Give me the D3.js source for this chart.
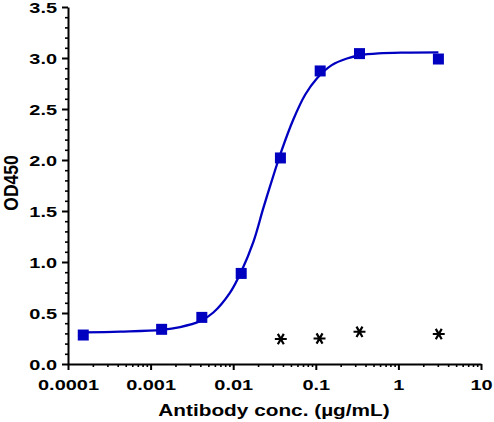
<!DOCTYPE html>
<html>
<head>
<meta charset="utf-8">
<script src="https://cdn.jsdelivr.net/npm/d3@7"></script>
<style>
  html, body { margin: 0; padding: 0; background: #fff; }
  svg { display: block; }
  text { font-family: "Liberation Sans", Arial, sans-serif; font-weight: bold; fill: #000; }
</style>
</head>
<body>
<svg id="chart" width="494" height="422"></svg>
<script>
// ---- data ----
const sampleConc = [0.000153, 0.00136, 0.00417, 0.0125, 0.0373, 0.113, 0.338, 3.05];
const sampleOD   = [0.284, 0.340, 0.457, 0.888, 2.02, 2.873, 3.043, 2.99];

const controlConc = [0.0377, 0.111, 0.338, 3.08];
const controlOD   = [0.245, 0.250, 0.316, 0.294];

// fitted curve
const fitConc = [0.000153, 0.000427, 0.00136, 0.00228, 0.00397, 0.00575, 0.00916, 0.0125,
                 0.0176, 0.0232, 0.0313, 0.0388, 0.0536, 0.0743, 0.103, 0.156, 0.238,
                 0.344, 0.574, 1.2, 3.05];
const fitOD   = [0.310, 0.318, 0.335, 0.362, 0.420, 0.505, 0.700, 0.905,
                 1.20, 1.53, 1.87, 2.10, 2.40, 2.64, 2.80, 2.93, 2.995,
                 3.027, 3.045, 3.053, 3.056];

const xTicks = [0.0001, 0.001, 0.01, 0.1, 1, 10];
const xTickLabels = ["0.0001", "0.001", "0.01", "0.1", "1", "10"];
const yTicks = [0, 0.5, 1, 1.5, 2, 2.5, 3, 3.5];
const yTickLabels = ["0.0", "0.5", "1.0", "1.5", "2.0", "2.5", "3.0", "3.5"];

const xTitle = "Antibody conc. (µg/mL)";
const yTitle = "OD450";

// ---- layout ----
const svg = d3.select("#chart");
const X0 = 68, X1 = 481, Y0 = 364, Y1 = 7;
const blue = "#0000c0";
const SX = 1.33; // horizontal text stretch seen in the reference

const x = d3.scaleLog().domain([0.0001, 10]).range([X0, X1]);
const y = d3.scaleLinear().domain([0, 3.5]).range([Y0, Y1]);

// minor ticks
const xMinor = [];
for (let e = -4; e < 1; e++) for (let m = 2; m <= 9; m++) xMinor.push(m * Math.pow(10, e));
const yMinor = d3.range(0, 36).map(i => i / 10).filter(v => Math.abs(v * 2 - Math.round(v * 2)) > 1e-6);

// x axis
const gx = svg.append("g").attr("transform", `translate(0,${Y0})`);
gx.append("g").call(d3.axisBottom(x).tickValues(xMinor).tickSize(3).tickSizeOuter(0).tickFormat(""))
  .call(g => g.select(".domain").remove())
  .call(g => g.selectAll("line").attr("stroke", "#000").attr("stroke-width", 1.6));
gx.append("g").call(d3.axisBottom(x).tickValues(xTicks).tickSize(6).tickSizeOuter(0)
    .tickFormat((d, i) => xTickLabels[i]))
  .call(g => g.select(".domain").attr("stroke", "#000").attr("stroke-width", 2))
  .call(g => g.selectAll("line").attr("stroke", "#000").attr("stroke-width", 2))
  .call(g => g.selectAll("text")
      .attr("y", 26).attr("dy", 0)
      .attr("font-size", 15)
      .attr("font-family", "Liberation Sans, Arial, sans-serif")
      .attr("font-weight", "bold")
      .attr("fill", "#000")
      .attr("transform", `scale(${SX},1)`)
      .attr("x", 0));

// y axis
const gy = svg.append("g").attr("transform", `translate(${X0},0)`);
gy.append("g").call(d3.axisLeft(y).tickValues(yMinor).tickSize(3).tickSizeOuter(0).tickFormat(""))
  .call(g => g.select(".domain").remove())
  .call(g => g.selectAll("line").attr("stroke", "#000").attr("stroke-width", 1.6));
gy.append("g").call(d3.axisLeft(y).tickValues(yTicks).tickSize(6).tickSizeOuter(0)
    .tickFormat((d, i) => yTickLabels[i]))
  .call(g => g.select(".domain").attr("stroke", "#000").attr("stroke-width", 2))
  .call(g => g.selectAll("line").attr("stroke", "#000").attr("stroke-width", 2))
  .call(g => g.selectAll("text")
      .attr("x", -11 / SX).attr("dy", "0.36em")
      .attr("font-size", 15)
      .attr("font-family", "Liberation Sans, Arial, sans-serif")
      .attr("font-weight", "bold")
      .attr("fill", "#000")
      .attr("transform", `scale(${SX},1)`));

// axis titles
svg.append("g").attr("transform", `translate(274,416)`)
  .append("text").attr("text-anchor", "middle").attr("font-size", 16)
  .attr("transform", `scale(1.3,1)`).text(xTitle);

svg.append("g").attr("transform", `translate(18,183) rotate(-90)`)
  .append("text").attr("text-anchor", "middle").attr("font-size", 17.5)
  .attr("transform", `scale(1,1.15)`).text(yTitle);

// fitted curve
const fit = fitConc.map((c, i) => [c, fitOD[i]]);
svg.append("path")
  .datum(fit)
  .attr("fill", "none")
  .attr("stroke", blue)
  .attr("stroke-width", 2.3)
  .attr("d", d3.line().x(d => x(d[0])).y(d => y(d[1])).curve(d3.curveCatmullRom.alpha(0.5)));

// sample squares
const sq = d3.symbol().type(d3.symbolSquare).size(121);
svg.append("g").selectAll("path")
  .data(sampleConc.map((c, i) => [c, sampleOD[i]]))
  .join("path")
  .attr("d", sq)
  .attr("fill", blue)
  .attr("transform", d => `translate(${x(d[0])},${y(d[1])})`);

// control asterisks
const ast = d3.symbol().type(d3.symbolAsterisk).size(100);
svg.append("g").selectAll("path")
  .data(controlConc.map((c, i) => [c, controlOD[i]]))
  .join("path")
  .attr("d", ast)
  .attr("fill", "none")
  .attr("stroke", "#000")
  .attr("stroke-width", 2.2)
  .attr("transform", d => `translate(${x(d[0])},${y(d[1])}) rotate(90)`);
</script>
</body>
</html>
